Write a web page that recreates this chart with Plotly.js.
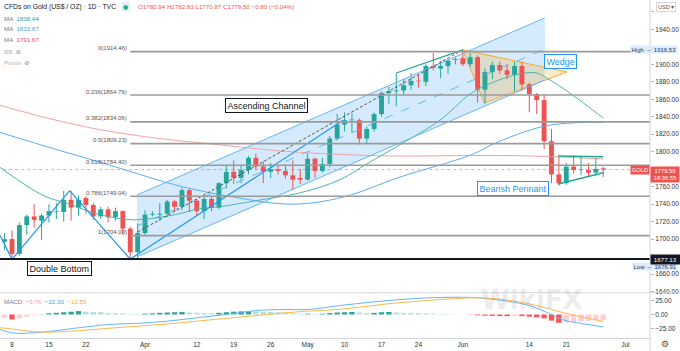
<!DOCTYPE html>
<html><head><meta charset="utf-8">
<script src="https://cdn.plot.ly/plotly-3.0.1.min.js"></script>
<style>html,body{margin:0;padding:0;background:#fff}#chart{width:680px;height:351px}</style>
</head><body><div id="chart"></div>
<script>
// ---------- data ----------
const dates = ['Mar 5','Mar 8','Mar 9','Mar 10','Mar 11','Mar 12','Mar 15','Mar 16','Mar 17','Mar 18','Mar 19',
'Mar 22','Mar 23','Mar 24','Mar 25','Mar 26','Mar 29','Mar 30','Mar 31','Apr 1','Apr 2',
'Apr 5','Apr 6','Apr 7','Apr 8','Apr 9','Apr 12','Apr 13','Apr 14','Apr 15','Apr 16',
'Apr 19','Apr 20','Apr 21','Apr 22','Apr 23','Apr 26','Apr 27','Apr 28','Apr 29','Apr 30',
'May 3','May 4','May 5','May 6','May 7','May 10','May 11','May 12','May 13','May 14',
'May 17','May 18','May 19','May 20','May 21','May 24','May 25','May 26','May 27','May 28',
'May 31','Jun 1','Jun 2','Jun 3','Jun 4','Jun 7','Jun 8','Jun 9','Jun 10','Jun 11',
'Jun 14','Jun 15','Jun 16','Jun 17','Jun 18','Jun 21','Jun 22','Jun 23','Jun 24','Jun 25','Jun 28'];
const firstBarIndex = -1; // Mar 5 sits one bar left of Mar 8

const open = [1697,1700,1683,1716,1726,1721,1727,1731,1731,1745,1736,
1747,1739,1726,1734,1725,1732,1712,1685,1707,1728,
1728,1729,1743,1737,1756,1744,1732,1746,1736,1764,
1777,1770,1779,1793,1783,1777,1780,1778,1773,1770,
1768,1792,1778,1786,1815,1831,1836,1836,1815,1826,
1843,1867,1869,1870,1876,1881,1880,1898,1895,1898,
1906,1907,1900,1908,1871,1891,1899,1893,1888,1898,
1877,1866,1859,1812,1774,1764,1783,1779,1779,1776,1780.94];
const high = [1707,1710,1719,1728,1740,1729,1740,1741,1755,1755,1750,
1749,1741,1737,1737,1736,1733,1714,1718,1733,1732,
1741,1745,1745,1759,1758,1746,1748,1750,1765,1784,
1790,1785,1795,1798,1789,1787,1785,1785,1790,1780,
1798,1793,1793,1818,1843,1845,1844,1838,1829,1845,
1869,1874,1890,1883,1890,1888,1900,1913,1904,1906,
1908,1916.53,1913,1910,1895,1903,1903,1900,1903,1903,
1879,1867,1866,1826,1795,1787,1796,1795,1787,1793,1782.83];
const low = [1687,1676.91,1681,1705,1713,1699,1719,1723,1720,1721,1727,
1729,1722,1723,1719,1721,1705,1677.3,1678,1704,1726,
1721,1725,1731,1733,1731,1727,1723,1732,1734,1758,
1763,1764,1774,1779,1764,1770,1774,1769,1756,1763,
1767,1770,1776,1782,1813,1823,1822,1808,1809,1823,
1840,1855,1852,1865,1871,1873,1875,1893,1884,1889,
1900,1898,1897,1856,1855,1883,1889,1883,1869,1870,
1845,1843,1803,1764,1761,1762,1775,1773,1772,1772,1770.87];
const close = [1700,1683,1716,1726,1722,1727,1732,1731.5,1745,1736,1745,
1739,1726,1734,1725,1732,1712,1685,1707,1728,1729,
1729,1743,1737,1756,1744,1732,1746,1736,1764,1777,
1770,1779,1793,1783,1777,1780,1778,1773,1768,1768,
1792,1778,1786,1815,1831,1836,1836.5,1815,1826,1843,
1867,1869,1870,1876,1881,1880.5,1898,1896,1898,1904,
1905,1900,1908,1871,1891,1899,1893,1888,1898,1877,
1866,1859,1812,1774,1764,1783,1779,1779.5,1776,1780.3,1779.5];

// moving averages (bar index, value)
const maTealIdx = [-1.62,4.2,7.4,11.9,16.4,22.1,25.4,28.1,33,39,44.4,48,52.5,57.9,62,64.7,68.7,71,72.4,75.5,80];
const maTealVal = [1782,1750,1741,1728,1722,1728,1735,1737,1744,1753,1768,1786,1808,1836,1866,1878,1889,1890,1884,1867,1838.44];
const maBlueIdx = [-1.62,6.2,11.9,17.3,22.1,30,38,44.8,52.5,62,66,71.9,76,80];
const maBlueVal = [1822,1802,1788,1774,1762,1748,1740,1748,1771,1796,1812,1829,1833,1833.67];
const maRedIdx = [-1.62,5,12,20,28,36,44,52,60,68,74,80];
const maRedVal = [1853,1838,1825,1815,1808,1801,1797,1795,1795.5,1795.5,1794,1791.67];

// MACD
const macdHist = [-6,-9,-7,-4,-1.5,0.5,2,3,4,5,6,5,4.5,4,3,2.5,2,1,0.8,1.5,2,3,3.5,4,4.3,3.5,3,2.5,2,3,4,5,5.5,6,5.5,5,4.5,4,3,2,1,1.3,1,1.2,2.5,3.5,4,4.5,3.5,2.5,2.8,4,4.5,3.5,3,2.8,2.5,2,1.5,1,0.6,0.4,0.2,-0.5,-1.5,-2,-2.5,-2.8,-3,-2.5,-3,-4,-5,-7,-11,-15,-14.5,-13.5,-12.5,-11.5,-10.5,-9.76];
const macdIdx = [-1.62,0,3,6,9,13,17,21,25,29,33,37,40,45,50,55,60,63,67,70,72,74.7,77,80];
const macdVal = [-27,-33,-33,-29,-24,-18,-16,-12,-6,0,7,9,9,17,24,29,31,30,24,16,6,-10,-16,-22.3];
const sigIdx = [-1.62,0,3,6,9,13,17,21,25,29,33,37,40,45,50,55,60,63,67,71,74.7,77,80];
const sigVal = [-24,-26,-31,-31.5,-29,-25,-21,-17,-12,-7,-2,3,6,10,18,24,28.5,30,26,16,3,-4,-12.55];

// axis labels
const tickIdx = [0,5,10,18,25,30,35,40,45,50,55,61,70,75,83];
const tickText = ['8','15','22','Apr','12','19','26','May','10','17','24','Jun','14','21','Jul'];
const priceTicks = [1640,1660,1680,1700,1720,1740,1760,1780,1800,1820,1840,1860,1880,1900,1920,1940,1960];
const hiddenPriceTicks = [1680,1780,1920,1960]; // covered by the price labels / currency box

// fibonacci retracement
const fibLevels = ['0','0.236','0.382','0.5','0.618','0.786','1'];
const fibPrices = [1914.46,1864.79,1834.06,1809.23,1784.40,1749.04,1704.00];
const fibStart = 16;

// drawings (bar index, price)
const zigzag = [[-1.62,1704.5],[0,1676.91],[7.8,1755.5],[16,1677.13],[44.8,1836]];
const channelUpper = [[16.9,1750.5],[72.1,1953]];
const channelLower = [[16.9,1679.6],[72.1,1882]];
const grayTrend = [[17,1708],[61,1916.5]];
const tealTop = [[52,1890],[61,1916.5]];
const wedge = [[61,1916.5],[75.1,1891.2],[63.9,1855.7]];
const pennantTop = [[73.9,1795],[80,1794.3]];
const pennantBottom = [[73.9,1763],[80,1776]];
const doubleBottomLevel = 1677.13;
const lastPrice = 1779.50;

// ---------- drawing ----------
const FONT = 'Liberation Sans, Arial, sans-serif';
const UP = '#26a69a', DOWN = '#ef5350';
const xIdx = dates.map((d,k)=>k+firstBarIndex);
const plotW = 650, plotH = 338;
const py = y => 1 - y/plotH;
const pxX = x => x/plotW;

const traces = [];
function wick(up){
  const xs=[],ys=[];
  for(let k=0;k<dates.length;k++){
    if((close[k]>=open[k])===up){xs.push(xIdx[k],xIdx[k],null);ys.push(low[k],high[k],null);}
  }
  return {type:'scatter',mode:'lines',x:xs,y:ys,line:{color:up?UP:DOWN,width:1},hoverinfo:'skip'};
}
function body(up){
  const xs=[],b=[],h=[];
  for(let k=0;k<dates.length;k++){
    if((close[k]>=open[k])===up){xs.push(xIdx[k]);b.push(Math.min(open[k],close[k]));h.push(Math.max(Math.abs(close[k]-open[k]),0.7));}
  }
  return {type:'bar',x:xs,base:b,y:h,width:0.66,marker:{color:up?UP:DOWN,line:{width:0}},hoverinfo:'skip'};
}
traces.push({type:'scatter',mode:'lines',x:maRedIdx,y:maRedVal,line:{color:'#f4a3a3',width:1,shape:'spline'}});
traces.push({type:'scatter',mode:'lines',x:maBlueIdx,y:maBlueVal,line:{color:'#5aaef5',width:1,shape:'spline'}});
traces.push({type:'scatter',mode:'lines',x:maTealIdx,y:maTealVal,line:{color:'#4db6ac',width:1,shape:'spline'}});
traces.push(wick(true),wick(false),body(true),body(false));

// MACD pane
const histColors = macdHist.map((v,k)=>{
  const prev = k>0?macdHist[k-1]:v;
  if(v>=0) return v>=prev?'#26a69a':'#b2dfdb';
  return v<prev?'#ff5252':'#ffcdd2';
});
traces.push({type:'bar',x:xIdx,y:macdHist,width:0.72,yaxis:'y2',marker:{color:histColors,line:{width:0}},hoverinfo:'skip'});
traces.push({type:'scatter',mode:'lines',x:macdIdx,y:macdVal,yaxis:'y2',line:{color:'#64b5f6',width:1,shape:'spline'}});
traces.push({type:'scatter',mode:'lines',x:sigIdx,y:sigVal,yaxis:'y2',line:{color:'#ffb74d',width:1,shape:'spline'}});

const shapes = [];
const seg = (p,q,line,layer)=>({type:'line',xref:'x',yref:'y',x0:p[0],y0:p[1],x1:q[0],y1:q[1],line,layer:layer||'above'});
const path = pts => 'M'+pts.map(p=>p[0]+','+p[1]).join(' L')+' Z';
// channel
shapes.push({type:'path',xref:'x',yref:'y',path:path([channelUpper[0],channelUpper[1],channelLower[1],channelLower[0]]),
  fillcolor:'rgba(33,150,243,0.19)',line:{width:0},layer:'below'});
shapes.push(seg(channelUpper[0],channelUpper[1],{color:'#64b5f6',width:1}));
shapes.push(seg(channelLower[0],channelLower[1],{color:'#64b5f6',width:1}));
shapes.push(seg([channelUpper[0][0],(channelUpper[0][1]+channelLower[0][1])/2],[channelUpper[1][0],(channelUpper[1][1]+channelLower[1][1])/2],{color:'#64b5f6',width:1,dash:'dash'}));
shapes.push(seg(grayTrend[0],grayTrend[1],{color:'#555',width:1,dash:'3px,2px'}));
// wedge
shapes.push({type:'path',xref:'x',yref:'y',path:path(wedge),fillcolor:'rgba(255,152,0,0.2)',line:{color:'#ffa726',width:1},layer:'below'});
shapes.push(seg(tealTop[0],tealTop[1],{color:'#26a69a',width:1.2}));
// pennant
shapes.push(seg(pennantTop[0],pennantTop[1],{color:'#26a69a',width:1.5}));
shapes.push(seg(pennantBottom[0],pennantBottom[1],{color:'#26a69a',width:1.5}));
// zigzag
for(let k=0;k<zigzag.length-1;k++) shapes.push(seg(zigzag[k],zigzag[k+1],{color:'#2196f3',width:1.2}));
// fib lines
fibPrices.forEach(p=>shapes.push(seg([fibStart,p],[86.5,p],{color:'#9a9a9a',width:1.6})));
// last price & double bottom
shapes.push(seg([-2,lastPrice],[87,lastPrice],{color:'rgba(239,83,80,0.55)',width:1,dash:'dot'}));
shapes.push(seg([-2,doubleBottomLevel],[87,doubleBottomLevel],{color:'#131722',width:2}));
// pane separator & right border
shapes.push({type:'line',xref:'paper',yref:'paper',x0:0,x1:680/plotW,y0:py(292.7),y1:py(292.7),line:{color:'#d1d4dc',width:1}});
shapes.push({type:'line',xref:'paper',yref:'paper',x0:1,x1:1,y0:py(351),y1:1,line:{color:'#d1d4dc',width:1}});

const ann = [];
const A = o => ann.push(Object.assign({showarrow:false,font:{family:FONT,size:6.3,color:'#131722'}},o));
// fib labels
fibLevels.forEach((l,k)=>A({xref:'x',yref:'y',x:fibStart,y:fibPrices[k],xanchor:'right',yanchor:'middle',xshift:-1,yshift:3.5,
  text:l+'('+fibPrices[k].toFixed(2)+')',font:{family:FONT,size:6,color:'#555'}}));
// pattern boxes
const box = (x,y,t,c)=>A({xref:'x',yref:'y',x,y,text:t,bgcolor:'#fff',bordercolor:c,borderwidth:1,borderpad:1.5,font:{family:FONT,size:9,color:c}});
box(34.5,1853.4,'Ascending Channel','#131722');
box(6.4,1666.5,'Double Bottom','#131722');
box(74.2,1902.6,'Wedge','#2196f3');
box(67.8,1757.5,'Bearish Pennant','#2196f3');
// legend
A({xref:'paper',yref:'paper',x:pxX(2),y:py(7),xanchor:'left',yanchor:'middle',text:'CFDs on Gold (US$ / OZ) · 1D · TVC',font:{family:FONT,size:6.8,color:'#131722'}});
A({xref:'paper',yref:'paper',x:pxX(125),y:py(7),xanchor:'center',yanchor:'middle',text:'●',font:{family:'DejaVu Sans',size:6,color:'#26a69a'},bgcolor:'rgba(38,166,154,0.15)',borderpad:1});
A({xref:'paper',yref:'paper',x:pxX(136),y:py(7),xanchor:'left',yanchor:'middle',text:'O1780.94 H1782.83 L1770.87 C1779.50 −0.80 (−0.04%)',font:{family:FONT,size:6.2,color:'#ef5350'}});
const legRow=(y,t)=>A({xref:'paper',yref:'paper',x:pxX(2),y:py(y),xanchor:'left',yanchor:'middle',text:t,font:{family:FONT,size:6.2,color:'#787b86'}});
legRow(18,'MA  <span style="color:#26a69a">1838.44</span>');
legRow(29,'MA  <span style="color:#42a5f5">1833.67</span>');
legRow(40,'MA  <span style="color:#ef5350">1791.67</span>');
legRow(51,'<span style="color:#b2b5be">BB</span>  <span style="font-family:DejaVu Sans">⊘</span>');
legRow(62,'<span style="color:#b2b5be">Pivots</span>  <span style="font-family:DejaVu Sans">⊘</span>');
legRow(301,'MACD  <span style="color:#f8a5a5">−9.76</span>  <span style="color:#42a5f5">−22.30</span>  <span style="color:#ffa726">−12.55</span>');
// watermark
A({xref:'paper',yref:'paper',x:pxX(585),y:py(317),text:'<b>WikiFX</b>',font:{family:'DejaVu Sans',size:26,color:'rgba(170,170,170,0.22)'}});
// right axis labels
const R = 678/plotW;
A({xref:'paper',yref:'y',x:R,y:1916.53,xanchor:'right',yanchor:'middle',text:'High  –  1916.53',bgcolor:'#dcebfb',borderpad:0.5,font:{family:FONT,size:6,color:'#2a3d5c'}});
A({xref:'paper',yref:'y',x:R,y:1676.91,yshift:-7.5,xanchor:'right',yanchor:'middle',text:'Low  –  1676.91',bgcolor:'#dcebfb',borderpad:0.5,font:{family:FONT,size:6,color:'#2a3d5c'}});
A({xref:'paper',yref:'y',x:1,y:doubleBottomLevel,xanchor:'left',yanchor:'middle',text:'1677.13',width:27,bgcolor:'#131722',borderpad:0.8,font:{family:FONT,size:6.2,color:'#fff'}});
A({xref:'paper',yref:'y',x:1,y:lastPrice,xanchor:'right',yanchor:'middle',text:'GOLD',bgcolor:'#ef5350',borderpad:0.8,font:{family:FONT,size:5.8,color:'#fff'}});
A({xref:'paper',yref:'y',x:1,y:lastPrice,yshift:4,xanchor:'left',yanchor:'top',text:'1779.50<br>18:36:55',width:27,bgcolor:'#ef5350',borderpad:0.5,font:{family:FONT,size:5.8,color:'#fff'}});
A({xref:'paper',yref:'paper',x:pxX(666),y:py(7),xanchor:'center',yanchor:'middle',text:'USD ▾',bgcolor:'#fff',bordercolor:'#d1d4dc',borderwidth:1,borderpad:1,font:{family:FONT,size:5.5,color:'#555'}});
A({xref:'paper',yref:'paper',x:pxX(665),y:py(344),xanchor:'center',yanchor:'middle',text:'⚙',font:{family:'DejaVu Sans',size:9,color:'#555'}});

const layout = {
  width:680,height:351,margin:{l:0,r:30,t:0,b:13,pad:0},
  paper_bgcolor:'#fff',plot_bgcolor:'#fff',showlegend:false,barmode:'overlay',
  font:{family:FONT,size:6.5,color:'#333'},
  xaxis:{range:[-1.624,86.33],anchor:'y2',tickmode:'array',tickvals:tickIdx,ticktext:tickText,showgrid:false,zeroline:false,
    showline:true,linecolor:'#d1d4dc',linewidth:1,ticks:'',tickfont:{family:FONT,size:6.5,color:'#333'},automargin:false},
  yaxis:{domain:[0.1361,1],range:[1639.5,1973.5],side:'right',tickmode:'array',tickvals:priceTicks,
    ticktext:priceTicks.map(v=>hiddenPriceTicks.includes(v)?'':v.toFixed(2)),
    ticks:'outside',ticklen:3,tickcolor:'#b2b5be',showgrid:false,zeroline:false,showline:false,
    tickfont:{family:FONT,size:6.5,color:'#333'},automargin:false},
  yaxis2:{domain:[0,0.1331],range:[-42.3,38.6],side:'right',tickmode:'array',tickvals:[-25,0,25],ticktext:['−25.00','0.00','25.00'],
    ticks:'outside',ticklen:3,tickcolor:'#b2b5be',showgrid:false,zeroline:false,showline:false,
    tickfont:{family:FONT,size:6.5,color:'#333'},automargin:false},
  shapes, annotations:ann
};
traces.forEach(t=>{t.showlegend=false;});
Plotly.newPlot('chart',traces,layout,{staticPlot:true,displayModeBar:false});
</script>
</body></html>
